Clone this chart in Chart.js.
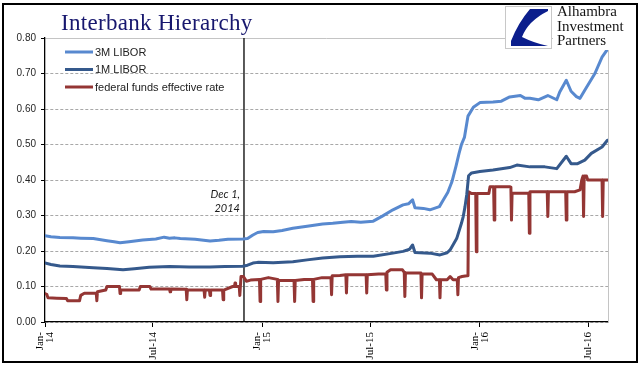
<!DOCTYPE html>
<html><head><meta charset="utf-8">
<script src="https://cdn.jsdelivr.net/npm/chart.js@4.4.1/dist/chart.umd.min.js"></script>
<style>
html,body{margin:0;padding:0;background:#fff;}
#wrap{position:relative;width:641px;height:375px;overflow:hidden;background:#fff;}
#c{position:absolute;left:0;top:0;}
#frame{position:absolute;left:2px;top:3px;width:632px;height:356px;border:2px solid #000;pointer-events:none;}
#title{position:absolute;left:61px;top:11px;font-family:"Liberation Serif","Times New Roman",serif;font-size:23px;line-height:23px;color:#17176e;letter-spacing:0.3px;white-space:nowrap;}
#logo{position:absolute;left:505px;top:6px;width:45px;height:41px;background:#fff;border:1px solid #c8c8c8;}
#logotext{position:absolute;left:553px;top:4px;padding:0 4px 2px 4px;background:#fff;font-family:"Liberation Serif","Times New Roman",serif;font-size:15px;line-height:14.5px;color:#151515;white-space:nowrap;}
</style></head>
<body>
<div id="wrap">
<canvas id="c" width="641" height="375"></canvas>
<div id="title">Interbank Hierarchy</div>
<div id="logo"><svg width="45" height="41" viewBox="0 0 45 41"><path d="M24,2 L42,2 L42,4 Q22,14 16,30 Q28,36 42,39 L5,39 L5,34 Q12,16 24,2 Z" fill="#0b1e8c"/></svg></div>
<div id="logotext">Alhambra<br>Investment<br>Partners</div>
<div id="frame"></div>
</div>
<script>
// ---- data (x = days since 1 Jan 2014) ----
const tickDays = [0, 181, 365, 546, 730, 912];
const tickLabels = ["Jan-14", "Jul-14", "Jan-15", "Jul-15", "Jan-16", "Jul-16"];
const yTicks = [0, 0.1, 0.2, 0.3, 0.4, 0.5, 0.6, 0.7, 0.8];
const seriesNames = ["3M LIBOR", "1M LIBOR", "federal funds effective rate"];
const markerDay = 334;
const markerText = ["Dec 1,", "2014"];

const libor3mDays = [
  0,10,25,47,60,81,104,116,126,141,
  164,186,200,209,218,227,252,277,292,307,
  332,340,349,357,367,383,398,416,440,466,
  483,500,514,530,551,567,584,601,610,617,
  621,635,646,662,669,676,683,690,695,699,
  704,710,719,730,752,766,780,798,806,814,
  828,844,859,864,875,883,892,898,906,923,
  935,944];
const libor3mValues = [
  0.243,0.240,0.238,0.237,0.236,0.235,0.229,0.226,0.223,0.226,
  0.231,0.234,0.239,0.236,0.237,0.235,0.233,0.228,0.230,0.233,
  0.234,0.235,0.245,0.252,0.255,0.254,0.258,0.264,0.270,0.276,
  0.278,0.281,0.283,0.281,0.284,0.299,0.316,0.330,0.333,0.344,
  0.322,0.320,0.316,0.325,0.345,0.365,0.395,0.440,0.475,0.500,
  0.520,0.580,0.605,0.618,0.620,0.622,0.634,0.638,0.630,0.630,
  0.626,0.638,0.626,0.648,0.681,0.650,0.635,0.630,0.653,0.700,
  0.746,0.768];

const libor1mDays = [
  0,10,25,47,81,104,131,150,175,209,
  242,277,302,332,340,349,357,383,416,440,
  466,495,524,551,584,601,612,617,621,646,
  663,675,680,691,699,702,705,708,711,716,
  730,752,780,792,814,839,859,875,883,894,
  906,917,935,944];
const libor1mValues = [
  0.166,0.162,0.158,0.156,0.153,0.151,0.147,0.150,0.154,0.156,
  0.155,0.155,0.156,0.157,0.160,0.166,0.168,0.167,0.170,0.175,
  0.180,0.184,0.185,0.185,0.194,0.199,0.205,0.217,0.196,0.194,
  0.189,0.195,0.203,0.235,0.278,0.297,0.325,0.360,0.412,0.420,
  0.424,0.428,0.435,0.442,0.437,0.437,0.432,0.467,0.446,0.446,
  0.456,0.475,0.493,0.512];

const fedFundsDays = [
  0,3,5,20,36,38,58,60,66,86,
  87,88,102,104,125,126,127,158,160,176,
  178,209,210,211,237,238,239,267,268,269,
  276,277,278,298,299,300,315,318,319,320,
  326,327,329,333,338,345,360,361,362,375,
  390,391,392,418,419,420,435,449,450,451,
  465,480,481,482,495,505,506,507,525,539,
  540,541,560,572,573,574,580,600,603,604,
  605,620,631,632,633,650,657,662,663,664,
  675,680,685,692,693,694,700,708,710,711,
  716,723,724,725,745,747,753,754,755,780,
  782,783,784,812,813,814,843,844,845,874,
  875,876,889,898,901,903,904,905,909,911,
  935,936,937,945];
const fedFundsValues = [
  0.080,0.078,0.068,0.067,0.066,0.060,0.060,0.075,0.081,0.081,
  0.060,0.085,0.090,0.100,0.100,0.080,0.090,0.090,0.100,0.100,
  0.093,0.093,0.085,0.093,0.092,0.063,0.090,0.090,0.070,0.090,
  0.090,0.075,0.090,0.090,0.063,0.090,0.100,0.100,0.110,0.100,
  0.100,0.075,0.128,0.128,0.115,0.118,0.120,0.058,0.120,0.125,
  0.120,0.058,0.117,0.117,0.058,0.117,0.120,0.120,0.058,0.120,
  0.125,0.125,0.077,0.130,0.131,0.133,0.082,0.133,0.133,0.133,
  0.082,0.133,0.135,0.135,0.090,0.140,0.147,0.147,0.140,0.072,
  0.138,0.138,0.138,0.068,0.135,0.135,0.119,0.119,0.068,0.119,
  0.119,0.128,0.119,0.119,0.077,0.125,0.128,0.130,0.130,0.367,
  0.362,0.362,0.198,0.362,0.362,0.381,0.381,0.287,0.381,0.381,
  0.380,0.287,0.363,0.363,0.250,0.367,0.367,0.297,0.367,0.367,
  0.287,0.367,0.367,0.372,0.400,0.411,0.297,0.411,0.411,0.400,
  0.400,0.297,0.400,0.400];

// ---- helpers ----
function pts(days, vals) { return days.map((d, i) => ({x: d, y: vals[i]})); }
function isJanTick(v) { const i = tickDays.indexOf(v); return i >= 0 && tickLabels[i].indexOf('Jan') === 0; }

const SANS = '"Liberation Sans", Arial, sans-serif';
const SERIF = '"Liberation Serif", "Times New Roman", serif';

const overlay = {
  id: 'overlay',
  beforeDatasetsDraw(chart) {
    const {ctx, chartArea: a, scales: {x}} = chart;
    const px = x.getPixelForValue(markerDay);
    ctx.save();
    ctx.strokeStyle = '#000'; ctx.lineWidth = 1.3;
    ctx.beginPath(); ctx.moveTo(px, a.top); ctx.lineTo(px, a.bottom); ctx.stroke();
    ctx.fillStyle = '#1a1a1a';
    ctx.font = 'italic 11px Lato, "Liberation Sans", sans-serif';
    ctx.textAlign = 'right'; ctx.textBaseline = 'middle';
    markerText.forEach((t, i) => ctx.fillText(t, px - 4, a.top + 156 + i * 14));
    ctx.restore();
  },
  afterDatasetsDraw(chart) {
    const {ctx, chartArea: a} = chart;
    ctx.save();
    chart.data.datasets.forEach((ds, i) => {
      const y = a.top + 14 + i * 17.5;
      ctx.strokeStyle = ds.borderColor; ctx.lineWidth = 3;
      ctx.beginPath(); ctx.moveTo(a.left + 20, y); ctx.lineTo(a.left + 48, y); ctx.stroke();
      ctx.fillStyle = '#222'; ctx.font = '11px ' + SANS;
      ctx.textAlign = 'left'; ctx.textBaseline = 'middle';
      ctx.fillText(ds.label, a.left + 50, y + 0.5);
    });
    ctx.restore();
  }
};

new Chart(document.getElementById('c'), {
  type: 'line',
  data: {
    datasets: [
      {label: seriesNames[0], data: pts(libor3mDays, libor3mValues), borderColor: '#5889cf', borderWidth: 3},
      {label: seriesNames[1], data: pts(libor1mDays, libor1mValues), borderColor: '#35598c', borderWidth: 3},
      {label: seriesNames[2], data: pts(fedFundsDays, fedFundsValues), borderColor: '#943634', borderWidth: 3}
    ]
  },
  options: {
    responsive: false, animation: false, devicePixelRatio: 1,
    elements: {point: {radius: 0}, line: {tension: 0, borderJoinStyle: 'round', borderCapStyle: 'round'}},
    layout: {padding: {left: 0, right: 33, top: 38, bottom: 0}},
    plugins: {legend: {display: false}, tooltip: {enabled: false}},
    scales: {
      x: {
        type: 'linear', min: 0, max: 945,
        afterBuildTicks: s => { s.ticks = tickDays.map(v => ({value: v})); },
        afterFit: s => { s.height = 53; },
        grid: {drawOnChartArea: false, drawTicks: true, tickLength: 5, color: '#000', tickColor: '#000', tickWidth: 1},
        border: {display: true, color: '#000', width: 1.3},
        ticks: {
          autoSkip: false, maxRotation: 90, minRotation: 90, padding: 5, labelOffset: -4.95, color: '#000',
          font: c => ({family: SERIF, size: 11, lineHeight: (c.tick && isJanTick(c.tick.value)) ? 0.9 : 0.45}),
          callback: v => {
            const t = tickLabels[tickDays.indexOf(v)];
            return t.indexOf('Jan') === 0 ? ['Jan-', t.slice(4)] : ['', t];
          }
        }
      },
      y: {
        min: 0, max: 0.8,
        afterBuildTicks: s => { s.ticks = yTicks.map(v => ({value: v})); },
        afterFit: s => { s.width = 45; },
        grid: {color: c => (c.tick && c.tick.value >= 0.8) ? '#c4c4c4' : '#a8a8a8', lineWidth: 1, drawTicks: true, tickLength: 4, tickColor: '#000'},
        border: {display: true, color: '#000', width: 1.3, dash: c => (c.tick && c.tick.value >= 0.8) ? [] : [3, 2]},
        ticks: {padding: 5, color: '#262626', font: {family: SANS, size: 10}, callback: v => Number(v).toFixed(2)}
      },
      y2: {
        position: 'right', min: 0, max: 0.8,
        grid: {display: false}, ticks: {display: false},
        border: {display: true, color: '#c4c4c4', width: 1},
        afterFit: s => { s.width = 0; }
      }
    }
  },
  plugins: [overlay]
});
</script>
</body></html>
